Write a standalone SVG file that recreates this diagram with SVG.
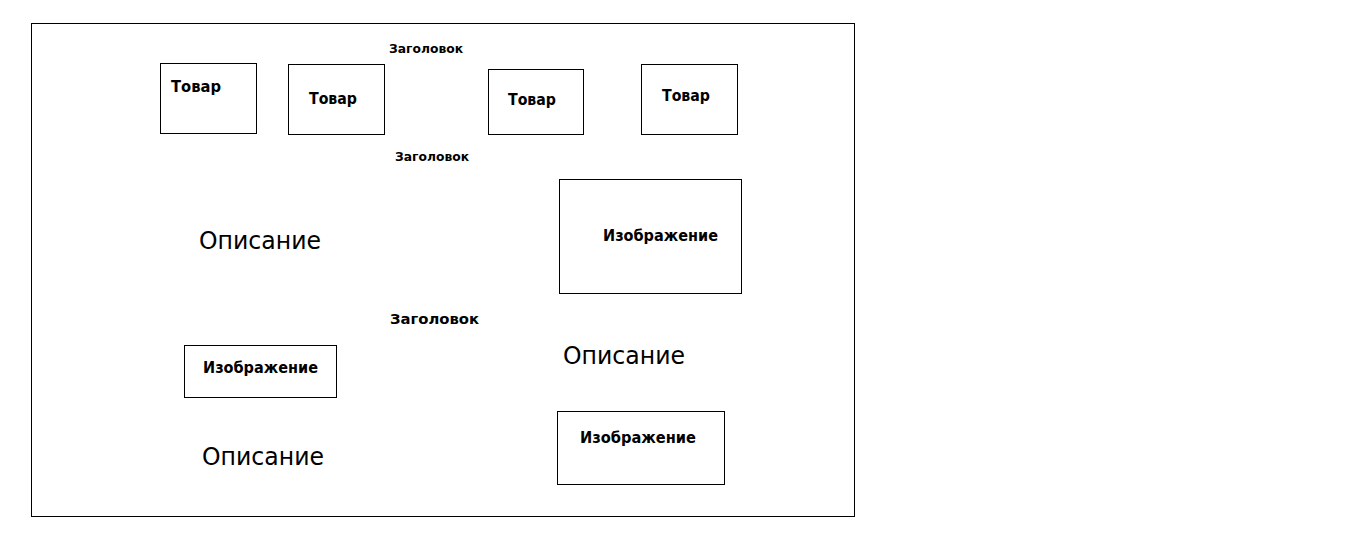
<svg xmlns="http://www.w3.org/2000/svg" width="1351" height="556" viewBox="0 0 1351 556">
<style>
rect{fill:none;stroke:#000;stroke-width:1}
text{font-family:"DejaVu Sans","Liberation Sans",sans-serif;fill:#000}
.t{font-size:15px;font-weight:bold}
.h{font-size:12px;font-weight:bold}
.d{font-size:24px}
</style>
<rect x="0" y="0" width="1351" height="556" style="fill:#fff;stroke:none"/>
<g id="frame"><rect x="31.5" y="23.5" width="823" height="493"/></g>
<g id="title1"><text class="h" x="389" y="53" textLength="74" lengthAdjust="spacingAndGlyphs">Заголовок</text></g>
<g id="product1"><rect x="160.5" y="63.5" width="96" height="70"/><text class="t" x="171" y="92" textLength="50" lengthAdjust="spacingAndGlyphs">Товар</text></g>
<g id="product2"><rect x="288.5" y="64.5" width="96" height="70"/><text class="t" x="309" y="104" textLength="48" lengthAdjust="spacingAndGlyphs">Товар</text></g>
<g id="product3"><rect x="488.5" y="69.5" width="95" height="65"/><text class="t" x="508" y="105" textLength="48" lengthAdjust="spacingAndGlyphs">Товар</text></g>
<g id="product4"><rect x="641.5" y="64.5" width="96" height="70"/><text class="t" x="662" y="101" textLength="48" lengthAdjust="spacingAndGlyphs">Товар</text></g>
<g id="title2"><text class="h" x="395" y="161" textLength="74" lengthAdjust="spacingAndGlyphs">Заголовок</text></g>
<g id="desc1"><text class="d" x="199" y="249" textLength="122" lengthAdjust="spacingAndGlyphs">Описание</text></g>
<g id="image1"><rect x="559.5" y="179.5" width="182" height="114"/><text class="t" x="603" y="241" textLength="115" lengthAdjust="spacingAndGlyphs">Изображение</text></g>
<g id="title3"><text class="t" style="font-size:14px" x="390" y="324" textLength="89" lengthAdjust="spacingAndGlyphs">Заголовок</text></g>
<g id="image2"><rect x="184.5" y="345.5" width="152" height="52"/><text class="t" x="203" y="373" textLength="115" lengthAdjust="spacingAndGlyphs">Изображение</text></g>
<g id="desc2"><text class="d" x="563" y="364" textLength="122" lengthAdjust="spacingAndGlyphs">Описание</text></g>
<g id="image3"><rect x="557.5" y="411.5" width="167" height="73"/><text class="t" x="580" y="443" textLength="116" lengthAdjust="spacingAndGlyphs">Изображение</text></g>
<g id="desc3"><text class="d" x="202" y="465" textLength="122" lengthAdjust="spacingAndGlyphs">Описание</text></g>
<g id="connectors"></g>
</svg>
